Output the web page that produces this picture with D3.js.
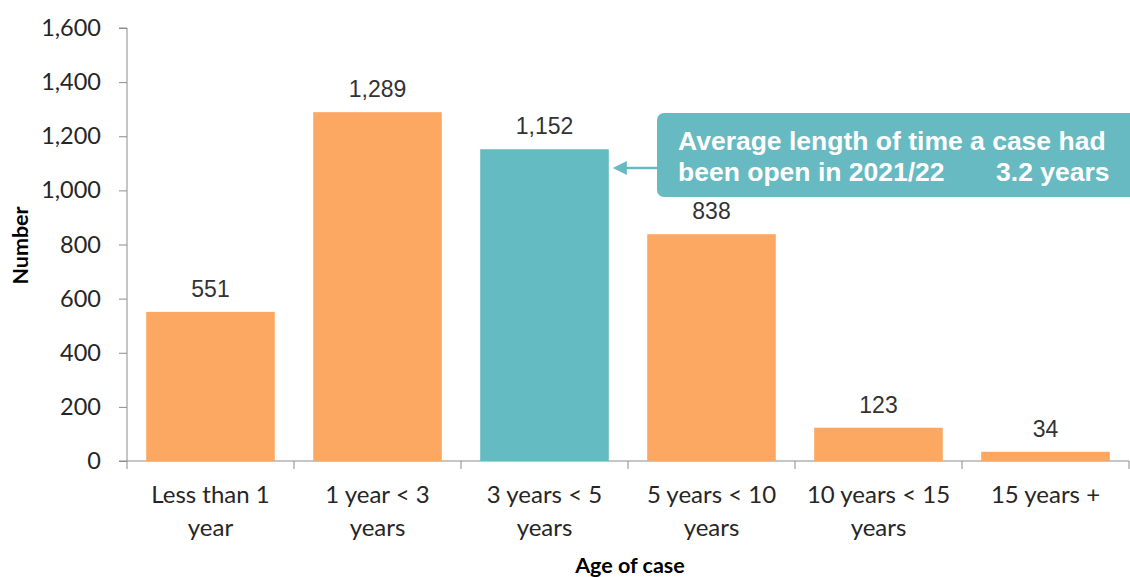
<!DOCTYPE html>
<html><head><meta charset="utf-8">
<script src="https://cdn.jsdelivr.net/npm/d3@7"></script>
<style>body{margin:0;background:#fff;} svg{display:block;}</style>
</head><body>
<svg id="c" width="1130" height="577"></svg>
<script>
const categories = [["Less than 1","year"],["1 year < 3","years"],["3 years < 5","years"],["5 years < 10","years"],["10 years < 15","years"],["15 years +"]];
const values = [551,1289,1152,838,123,34];
const highlight = [false,false,true,false,false,false];
const yTicks = [0,200,400,600,800,1000,1200,1400,1600];
const annotationLines = ["Average length of time a case had","been open in 2021/22       3.2 years"];

(function(){
const svg = d3.select("#c");
const pL = 127, pR = 1129, pT = 28, pB = 461;
const x = d3.scaleBand().domain(d3.range(categories.length)).range([pL, pR]).paddingInner(0.23).paddingOuter(0.115);
const y = d3.scaleLinear().domain([0,1600]).range([pB, pT]);
const tickFont = "Lato, 'Open Sans', sans-serif";

// y axis
const ya = svg.append("g").attr("transform",`translate(${pL},0)`)
  .call(d3.axisLeft(y).tickValues(yTicks).tickSize(8).tickPadding(18).tickFormat(d3.format(",")));
ya.selectAll("path,line").attr("stroke","#8c8c8c");
ya.select("path").attr("d",`M0,${pT}V${pB}M-8,${pT}H0`);
ya.selectAll("text").attr("font-family",tickFont).attr("font-size",23.5).attr("fill","#262626");

// x axis
const bounds = d3.range(categories.length+1).map(i=>pL + i*(pR-pL)/categories.length);
const xa = svg.append("g");
xa.append("line").attr("x1",pL-8).attr("x2",pR).attr("y1",pB).attr("y2",pB).attr("stroke","#8c8c8c");
xa.selectAll("line.t").data(bounds).enter().append("line").attr("class","t")
  .attr("x1",d=>d).attr("x2",d=>d).attr("y1",pB).attr("y2",pB+8).attr("stroke","#8c8c8c");

// bars
svg.selectAll("rect.bar").data(values).enter().append("rect").attr("class","bar")
  .attr("x",(d,i)=>x(i)).attr("width",x.bandwidth())
  .attr("y",d=>y(d)).attr("height",d=>pB-y(d))
  .attr("fill",(d,i)=>highlight[i]?"#64BBC1":"#FCA862");

// value labels
svg.selectAll("text.val").data(values).enter().append("text").attr("class","val")
  .attr("x",(d,i)=>x(i)+x.bandwidth()/2).attr("y",d=>y(d)-15)
  .attr("text-anchor","middle").attr("font-family","'Liberation Sans', Arial, sans-serif")
  .attr("font-size",23).attr("fill","#333").text(d=>d3.format(",")(d));

// category labels
categories.forEach((lines,i)=>{
  const t = svg.append("text").attr("text-anchor","middle").attr("font-family",tickFont)
    .attr("font-size",24).attr("fill","#262626");
  lines.forEach((l,j)=>t.append("tspan").attr("x",x(i)+x.bandwidth()/2).attr("y",503+j*33).text(l));
});

// axis titles
svg.append("text").attr("transform",`translate(28,${(pT+pB)/2+1}) rotate(-90)`)
  .attr("text-anchor","middle").attr("font-family",tickFont).attr("font-weight","bold")
  .attr("font-size",21.5).attr("fill","#000").text("Number");
svg.append("text").attr("x",630).attr("y",573).attr("text-anchor","middle").attr("font-family",tickFont)
  .attr("font-weight","bold").attr("font-size",21.5).attr("fill","#000").text("Age of case");

// annotation
const hi = highlight.indexOf(true);
const arrowY = 168;
svg.append("rect").attr("x",657).attr("y",113).attr("width",490).attr("height",84).attr("rx",7)
  .attr("fill","#67BAC1");
const tipX = x(hi)+x.bandwidth()+4;
svg.append("line").attr("x1",657).attr("x2",tipX+8).attr("y1",arrowY).attr("y2",arrowY)
  .attr("stroke","#67BAC1").attr("stroke-width",2.5);
svg.append("path").attr("d",`M${tipX},${arrowY}L${tipX+14},${arrowY-7}L${tipX+14},${arrowY+7}Z`)
  .attr("fill","#67BAC1");
const at = svg.append("text").attr("font-family","'Liberation Sans', Arial, sans-serif").attr("font-weight","bold")
  .attr("font-size",26.5).attr("fill","#fff").attr("xml:space","preserve");
annotationLines.forEach((l,j)=>at.append("tspan").attr("x",678).attr("y",149.5+j*31).text(l));
})();
</script>
</body></html>
